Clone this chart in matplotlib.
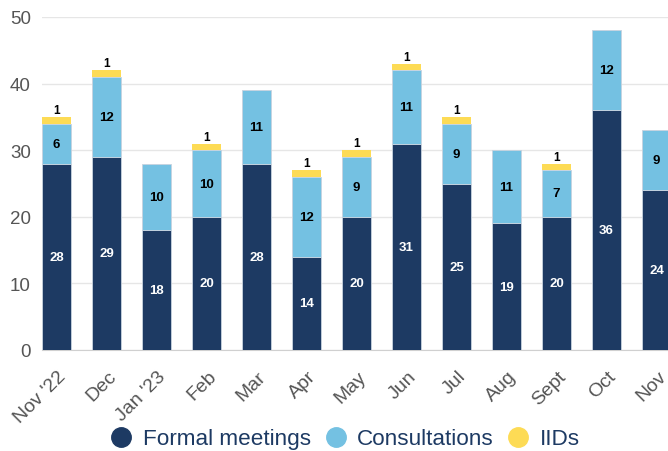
import matplotlib.pyplot as plt
import matplotlib.transforms as mtransforms
import numpy as np

months = ["Nov '22", "Dec", "Jan '23", "Feb", "Mar", "Apr", "May",
          "Jun", "Jul", "Aug", "Sept", "Oct", "Nov"]
formal = [28, 29, 18, 20, 28, 14, 20, 31, 25, 19, 20, 36, 24]
consult = [6, 12, 10, 10, 11, 12, 9, 11, 9, 11, 7, 12, 9]
iids = [1, 1, 0, 1, 0, 1, 1, 1, 1, 0, 1, 0, 0]

c_formal = '#1d3a63'
c_consult = '#74c1e2'
c_iids = '#fddb55'

plt.rcParams['font.family'] = ['Liberation Sans', 'DejaVu Sans']

fig = plt.figure(figsize=(6.68, 4.52), dpi=100)
ax = fig.add_axes([42 / 668, 101 / 452, 1 - 42 / 668, 333 / 452])

x = np.arange(len(months))
formal = np.array(formal)
consult = np.array(consult)
iids = np.array(iids)
w = 0.58

ax.bar(x, formal, w, color=c_formal, edgecolor='#c8d3df', linewidth=0.6, zorder=3)
ax.bar(x, consult, w, bottom=formal, color=c_consult, edgecolor='#c8d3df', linewidth=0.6, zorder=3)
ax.bar(x, iids, w, bottom=formal + consult, color=c_iids, linewidth=0, zorder=3)

for i in range(len(months)):
    ax.text(x[i], formal[i] / 2, str(formal[i]), ha='center', va='center',
            color='white', fontsize=9.5, fontweight='bold', zorder=4)
    ax.text(x[i], formal[i] + consult[i] / 2, str(consult[i]), ha='center', va='center',
            color='black', fontsize=9.5, fontweight='bold', zorder=4)
    if iids[i] > 0:
        ax.text(x[i], formal[i] + consult[i] + iids[i] + 0.15, str(iids[i]),
                ha='center', va='bottom', color='black', fontsize=8.5,
                fontweight='bold', zorder=4)

ax.set_xlim(-0.29, 12.23)
ax.set_ylim(0, 50)
ax.set_yticks([0, 10, 20, 30, 40, 50])
ax.grid(axis='y', color='#e6e6e6', linewidth=1, zorder=0)
for s in ['top', 'right', 'left']:
    ax.spines[s].set_visible(False)
ax.spines['bottom'].set_color('#d0d0d0')
ax.tick_params(axis='y', length=0, labelsize=13.5, labelcolor='#555555', pad=8)
ax.tick_params(axis='x', length=0, labelsize=14, labelcolor='#555555', pad=14)
ax.set_xticks(x)
ax.set_xticklabels(months, rotation=45, ha='right', va='center', rotation_mode='anchor')
# labels sit a bit right and lower in the original
shift = mtransforms.ScaledTranslation(7 / 100, -4 / 100, fig.dpi_scale_trans)
for lab in ax.get_xticklabels():
    lab.set_transform(lab.get_transform() + shift)

handles = [plt.Line2D([], [], marker='o', linestyle='', markersize=14, color=c)
           for c in [c_formal, c_consult, c_iids]]
fig.legend(handles, ['Formal meetings', 'Consultations', 'IIDs'],
           loc='center', bbox_to_anchor=(345 / 668, 1 - 440 / 452), ncol=3,
           frameon=False, fontsize=16.2, handlelength=1.0, handletextpad=0.45,
           columnspacing=0.6, labelcolor=c_formal)

fig.savefig('out.png', dpi=100)
